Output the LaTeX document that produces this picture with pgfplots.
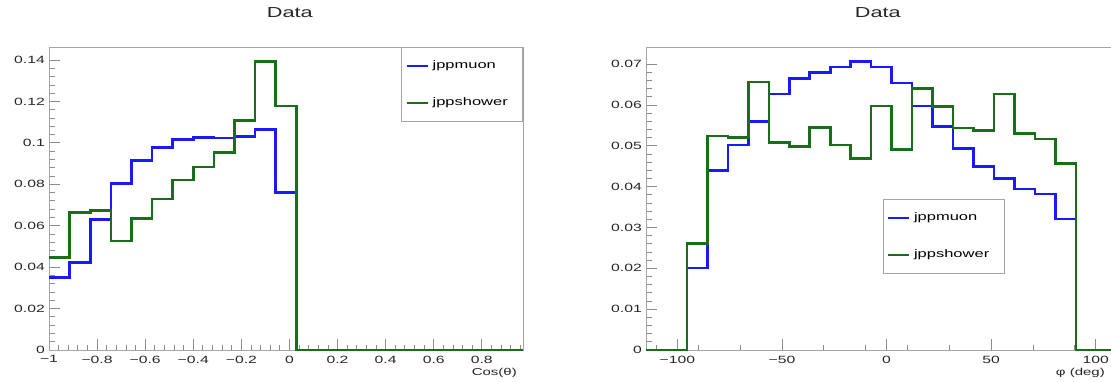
\documentclass[border=0pt]{standalone}
\usepackage{fontspec}
\setmainfont{Liberation Sans}[FakeStretch=1.5]
\usepackage{pgfplots}
\pgfplotsset{compat=1.18}
\definecolor{rblue}{RGB}{25,25,250}
\definecolor{rgreen}{RGB}{25,110,25}
\definecolor{framegray}{RGB}{165,165,165}

\pgfplotsset{rootstyle/.style={
  scale only axis, height=303pt, clip=false,
  scaled y ticks=false, scaled x ticks=false,
  axis line style={framegray, line width=0.9pt},
  tick style={framegray!85!black, line width=0.8pt},
  major tick length=11pt, minor tick length=5.5pt,
  tick align=inside, xtick pos=bottom, ytick pos=left,
  ymin=0,
  tick label style={font=\fontsize{10.5}{12}\selectfont, text=black!85},
  yticklabel style={inner sep=0pt, xshift=-4pt},
  xticklabel style={inner sep=0pt, yshift=-5.5pt},
  title style={font=\fontsize{14.5}{16}\selectfont, text=black!85, anchor=center, yshift=28pt},
  xlabel style={font=\fontsize{10}{12}\selectfont, text=black!85, at={(axis description cs:1,0)}, anchor=north east, inner sep=0pt, yshift=-18pt, xshift=-6pt},
  legend style={draw=framegray, line width=0.8pt, fill=white, inner xsep=4pt, inner ysep=13pt, row sep=26pt, column sep=4pt, font=\fontsize{11}{13}\selectfont, nodes={inner sep=0pt, text height=8pt, text depth=3pt}, cells={anchor=west}},
  legend image code/.code={\draw[#1, line width=2pt] (0pt,0pt) -- (21pt,0pt);},
}}

\begin{document}
\begin{tikzpicture}
% ---------------- left: cos(theta) ----------------
\begin{axis}[rootstyle, at={(49pt,31pt)}, anchor=south west, width=474pt,
  xmin=-1, xmax=0.9714, ymax=0.1463,
  title=Data, title style={at={(0.508,1)}},
  xlabel={Cos(θ)},
  xtick={-1,-0.8,-0.6,-0.4,-0.2,0,0.2,0.4,0.6,0.8},
  xticklabels={−1,−0.8,−0.6,−0.4,−0.2,0,0.2,0.4,0.6,0.8},
  minor xtick={-0.96,-0.92,...,0.97},
  ytick={0,0.02,0.04,0.06,0.08,0.1,0.12,0.14},
  yticklabels={0,0.02,0.04,0.06,0.08,0.1,0.12,0.14},
  minor y tick num=4,
  legend style={at={(axis description cs:1,1)}, anchor=north east},
]
\addplot[const plot mark left, rblue, line width=2.6pt] coordinates {
 (-1,0.0350) (-0.9143,0.0423) (-0.8286,0.0631) (-0.7429,0.0803) (-0.6571,0.0914)
 (-0.5714,0.0977) (-0.4857,0.1017) (-0.4,0.1025) (-0.3143,0.1023) (-0.2286,0.1030)
 (-0.1429,0.1066) (-0.0571,0.0760) (0.0286,0) (0.9714,0)};
\addlegendentry{\makebox[86pt][l]{jppmuon}}
\addplot[const plot mark left, rgreen, line width=2.6pt] coordinates {
 (-1,0.0448) (-0.9143,0.0663) (-0.8286,0.0673) (-0.7429,0.0526) (-0.6571,0.0634)
 (-0.5714,0.0729) (-0.4857,0.0821) (-0.4,0.0884) (-0.3143,0.0953) (-0.2286,0.1109)
 (-0.1429,0.1392) (-0.0571,0.1178) (0.0286,0) (0.9714,0)};
\addlegendentry{\makebox[86pt][l]{jppshower}}
\end{axis}
% ---------------- right: phi ----------------
\begin{axis}[rootstyle, at={(646pt,31pt)}, anchor=south west, width=481pt,
  xmin=-115, xmax=115, ymax=0.0742,
  title=Data, title style={at={(0.482,1)}},
  xlabel={φ (deg)}, xlabel style={xshift=-16pt},
  xtick={-100,-50,0,50,100},
  xticklabels={−100,−50,0,50,100},
  minor xtick={-110,-90,...,110},
  ytick={0,0.01,0.02,0.03,0.04,0.05,0.06,0.07},
  yticklabels={0,0.01,0.02,0.03,0.04,0.05,0.06,0.07},
  minor y tick num=4,
  legend style={at={(axis description cs:0.492,0.497)}, anchor=north west},
]
\addplot[const plot mark left, rblue, line width=2.6pt] coordinates {
 (-115,0) (-95.43,0.0201) (-85.64,0.0440) (-75.85,0.0502) (-66.06,0.0559) (-56.28,0.0627)
 (-46.49,0.0665) (-36.70,0.0680) (-26.91,0.0693) (-17.13,0.0706) (-7.34,0.0693)
 (2.45,0.0654) (12.23,0.0598) (22.02,0.0547) (31.81,0.0494) (41.60,0.0449)
 (51.38,0.0420) (61.17,0.0394) (70.96,0.0382) (80.74,0.0321) (90.53,0) (115,0)};
\addlegendentry{\makebox[86pt][l]{jppmuon}}
\addplot[const plot mark left, rgreen, line width=2.6pt] coordinates {
 (-115,0) (-95.43,0.0261) (-85.64,0.0524) (-75.85,0.0521) (-66.06,0.0656) (-56.28,0.0508)
 (-46.49,0.0498) (-36.70,0.0545) (-26.91,0.0502) (-17.13,0.0469) (-7.34,0.0598)
 (2.45,0.0491) (12.23,0.0640) (22.02,0.0597) (31.81,0.0544) (41.60,0.0537)
 (51.38,0.0627) (61.17,0.0530) (70.96,0.0517) (80.74,0.0457) (90.53,0) (115,0)};
\addlegendentry{\makebox[86pt][l]{jppshower}}
\end{axis}
\pgfresetboundingbox
\useasboundingbox (0,0) rectangle (1111pt,381pt);
\end{tikzpicture}
\end{document}
